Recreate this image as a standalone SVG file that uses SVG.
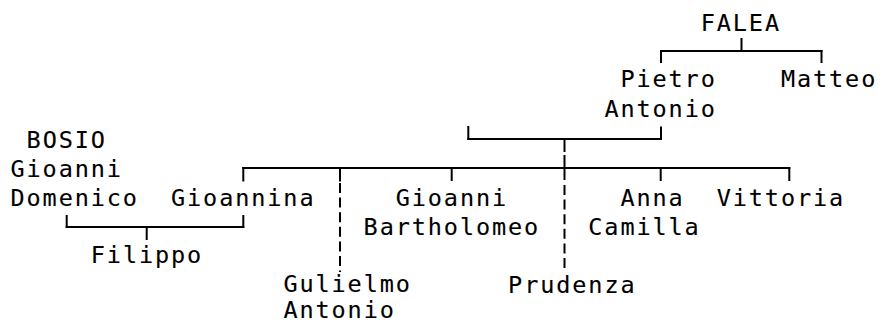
<svg xmlns="http://www.w3.org/2000/svg" width="880" height="324" viewBox="0 0 880 324">
<style>
text{font-family:"DejaVu Sans Mono","Liberation Mono",monospace;font-size:23.5px;letter-spacing:1.9px;fill:#000;stroke:#000;stroke-width:0.12}
.c line{stroke:#000;stroke-width:2;fill:none}
.c .d{stroke-dasharray:10 4.6}
</style>
<rect width="880" height="324" fill="#fff"/>
<g class="c" id="connectors">
<line x1="741.5" y1="38" x2="741.5" y2="51"/>
<line x1="660" y1="51" x2="822.5" y2="51"/>
<line x1="661" y1="50" x2="661" y2="63"/>
<line x1="821.5" y1="50" x2="821.5" y2="63"/>
<line x1="661" y1="126.5" x2="661" y2="140"/>
<line x1="467.3" y1="139" x2="662" y2="139"/>
<line x1="468.3" y1="126" x2="468.3" y2="140"/>
<line x1="564.5" y1="139" x2="564.5" y2="152"/>
<line x1="564.5" y1="155" x2="564.5" y2="180"/>
<line class="d" x1="564.5" y1="185" x2="564.5" y2="272"/>
<line x1="242.3" y1="168" x2="790.3" y2="168"/>
<line x1="243.3" y1="167" x2="243.3" y2="181.5"/>
<line x1="340" y1="167" x2="340" y2="181.5"/>
<line class="d" x1="340" y1="183" x2="340" y2="272"/>
<line x1="451.7" y1="167" x2="451.7" y2="181"/>
<line x1="660.7" y1="167" x2="660.7" y2="181"/>
<line x1="789.3" y1="167" x2="789.3" y2="181"/>
<line x1="243.3" y1="215" x2="243.3" y2="228"/>
<line x1="66.7" y1="215" x2="66.7" y2="228"/>
<line x1="65.7" y1="227" x2="244.3" y2="227"/>
<line x1="146.7" y1="227" x2="146.7" y2="240"/>
</g>
<g id="falea"><text x="700.7" y="30.7">FALEA</text></g>
<g id="pietro-antonio"><text x="620.4" y="87.3">Pietro</text><text x="604.4" y="117.3">Antonio</text></g>
<g id="matteo"><text x="780.9" y="87.3">Matteo</text></g>
<g id="bosio"><text x="26.6" y="148">BOSIO</text><text x="10.5" y="177">Gioanni</text><text x="10.5" y="206">Domenico</text></g>
<g id="gioannina"><text x="171" y="206">Gioannina</text></g>
<g id="filippo"><text x="90.8" y="263">Filippo</text></g>
<g id="gulielmo-antonio"><text x="283.4" y="292">Gulielmo</text><text x="283.4" y="318">Antonio</text></g>
<g id="gioanni-bartholomeo"><text x="395.7" y="206">Gioanni</text><text x="363.6" y="234.5">Bartholomeo</text></g>
<g id="prudenza"><text x="508.1" y="293">Prudenza</text></g>
<g id="anna-camilla"><text x="620.4" y="206">Anna</text><text x="588.3" y="234.5">Camilla</text></g>
<g id="vittoria"><text x="716.7" y="206">Vittoria</text></g>
</svg>
